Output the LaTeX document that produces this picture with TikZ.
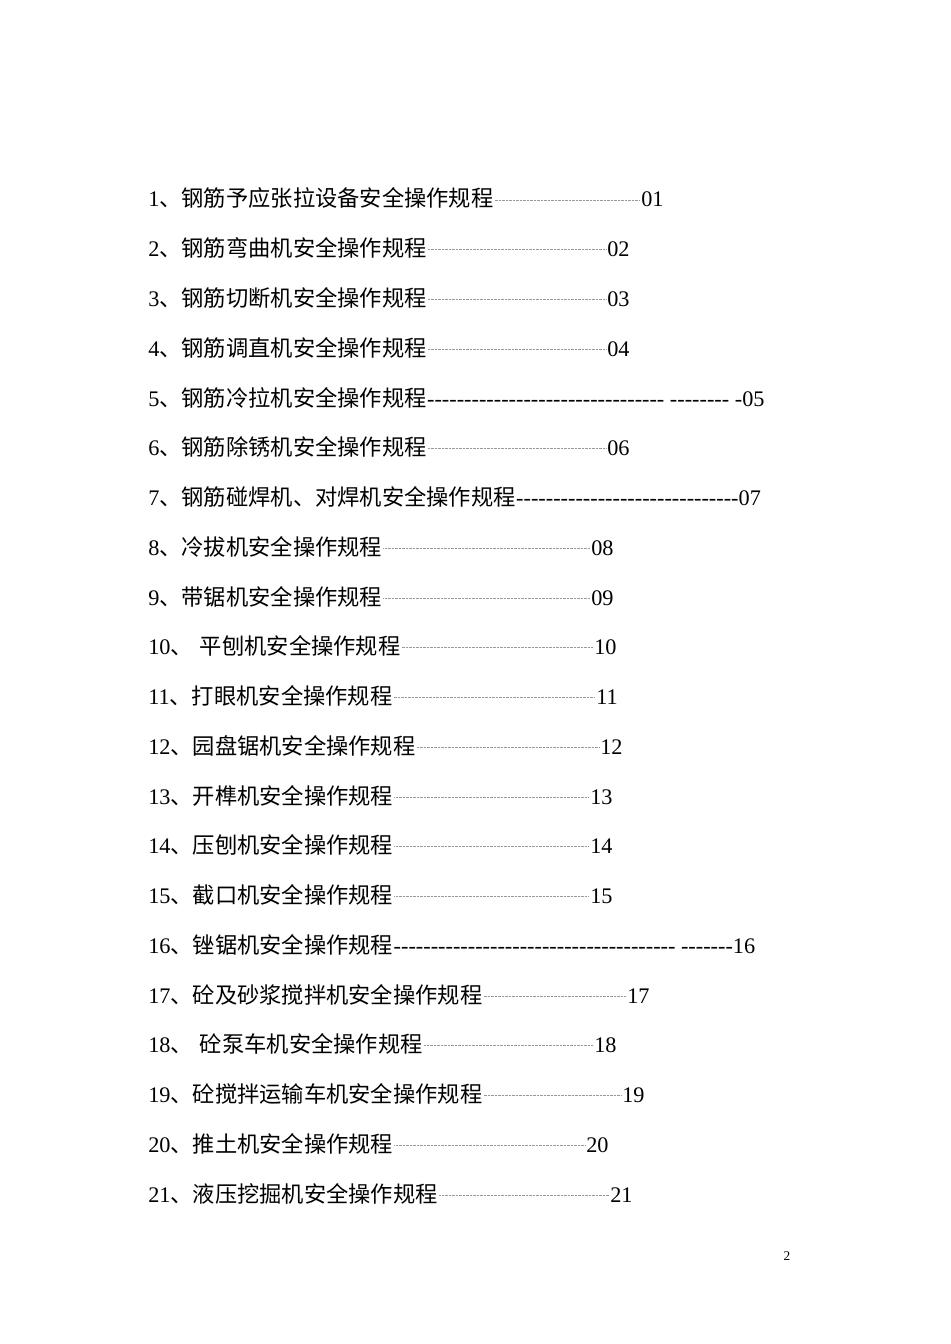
\documentclass[tikz,border=0pt]{standalone}
\usepackage{fontspec}
\setmainfont{Liberation Serif}
\newfontfamily\cjk{Noto Sans CJK SC}
\usetikzlibrary{calc}
\ExplSyntaxOn
\cs_new:Npn \myhy #1 {\prg_replicate:nn{#1}{-\kern0pt\relax}}
\ExplSyntaxOff
\tikzset{
  rowtext/.style={anchor=base west, inner sep=0pt, font=\fontsize{16.7pt}{20pt}\selectfont},
  leader/.style={draw=gray!80, line width=0.55pt, dash pattern=on 0.45pt off 0.6pt},
}
\newcommand\rowbase[1]{\pgfmathsetmacro\rb{207+49.75*(#1-1)}}
\newcommand\tocrow[4]{%
  \rowbase{#1}%
  \node[rowtext] (t#1) at (148,\rb) {#2};
  \node[rowtext] (p#1) at (#3,\rb) {#4};
  \draw[leader] ($(t#1.base east)+(1,-7)$) -- ($(p#1.base west)+(-1,-7)$);
}
\newcommand\dashrow[3]{%
  \rowbase{#1}%
  \node[rowtext] (t#1) at (148,\rb) {#2};
  \node[rowtext] (d#1) at (t#1.base east) {#3};
}
\begin{document}
\begin{tikzpicture}[x=0.75pt,y=-0.75pt]
\useasboundingbox[fill=white] (0,0) rectangle (950,1344);
\tocrow{1}{1{\cjk 、钢筋予应张拉设备安全操作规程}}{641}{01}
\tocrow{2}{2{\cjk 、钢筋弯曲机安全操作规程}}{607}{02}
\tocrow{3}{3{\cjk 、钢筋切断机安全操作规程}}{607}{03}
\tocrow{4}{4{\cjk 、钢筋调直机安全操作规程}}{607}{04}
\dashrow{5}{5{\cjk 、钢筋冷拉机安全操作规程}}{\myhy{32}\ \myhy{8}\ -05}
\tocrow{6}{6{\cjk 、钢筋除锈机安全操作规程}}{607}{06}
\dashrow{7}{7{\cjk 、钢筋碰焊机、对焊机安全操作规程}}{\myhy{30}07}
\tocrow{8}{8{\cjk 、冷拔机安全操作规程}}{591}{08}
\tocrow{9}{9{\cjk 、带锯机安全操作规程}}{591}{09}
\tocrow{10}{10{\cjk 、\hspace{5.4pt}平刨机安全操作规程}}{594}{10}
\tocrow{11}{11{\cjk 、打眼机安全操作规程}}{596}{11}
\tocrow{12}{12{\cjk 、园盘锯机安全操作规程}}{600}{12}
\tocrow{13}{13{\cjk 、开榫机安全操作规程}}{590}{13}
\tocrow{14}{14{\cjk 、压刨机安全操作规程}}{590}{14}
\tocrow{15}{15{\cjk 、截口机安全操作规程}}{590}{15}
\dashrow{16}{16{\cjk 、锉锯机安全操作规程}}{\myhy{38}\ \myhy{7}16}
\tocrow{17}{17{\cjk 、砼及砂浆搅拌机安全操作规程}}{627}{17}
\tocrow{18}{18{\cjk 、\hspace{5.4pt}砼泵车机安全操作规程}}{594}{18}
\tocrow{19}{19{\cjk 、砼搅拌运输车机安全操作规程}}{622}{19}
\tocrow{20}{20{\cjk 、推土机安全操作规程}}{586}{20}
\tocrow{21}{21{\cjk 、液压挖掘机安全操作规程}}{610}{21}
\node[inner sep=0pt, font=\fontsize{10pt}{12pt}\selectfont] (pg) at (787,1256) {2};
\end{tikzpicture}
\end{document}
